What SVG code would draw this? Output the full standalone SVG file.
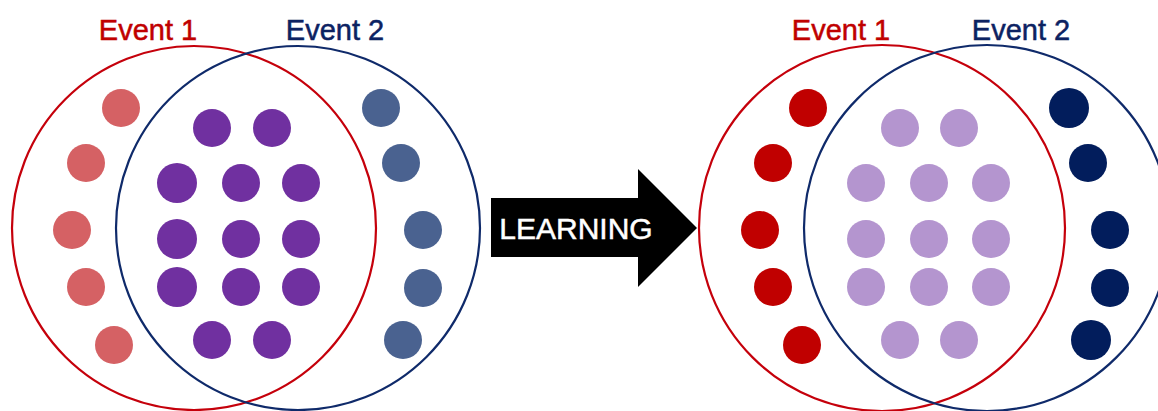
<svg xmlns="http://www.w3.org/2000/svg" width="1158" height="411" viewBox="0 0 1158 411">
  <style>
    .label { font-family: "Liberation Sans", Arial, sans-serif; font-size: 29px; text-anchor: middle; stroke-width: 0.5; }
    .red-text { fill: #c00000; stroke: #c00000; }
    .blue-text { fill: #0c2262; stroke: #0c2262; }
    .white-text { fill: #ffffff; stroke: #ffffff; font-size: 30px; }
    .ring { fill: none; stroke-width: 2.2; }
    .ring-red { stroke: #c5000b; }
    .ring-blue { stroke: #0f2a6a; }
    .dot { stroke: none; }
  </style>
  <rect width="1158" height="411" fill="#ffffff"/>

  <!-- Before learning -->
  <g id="venn-before">
    <g id="before-labels">
      <text class="label red-text" x="148" y="40">Event 1</text>
      <text class="label blue-text" x="335" y="40">Event 2</text>
    </g>
    <g id="before-event1-only" fill="#d56164">
      <circle class="dot" cx="121" cy="108" r="19"/>
      <circle class="dot" cx="86" cy="163" r="19"/>
      <circle class="dot" cx="72" cy="230" r="19"/>
      <circle class="dot" cx="86" cy="287" r="19"/>
      <circle class="dot" cx="114" cy="345" r="19"/>
    </g>
    <g id="before-shared" fill="#7030a0">
      <circle class="dot" cx="212" cy="128" r="19"/>
      <circle class="dot" cx="272" cy="128" r="19"/>
      <circle class="dot" cx="177" cy="183" r="20"/>
      <circle class="dot" cx="241" cy="183" r="19"/>
      <circle class="dot" cx="301" cy="183" r="19"/>
      <circle class="dot" cx="177" cy="239" r="20"/>
      <circle class="dot" cx="241" cy="239" r="19"/>
      <circle class="dot" cx="301" cy="239" r="19"/>
      <circle class="dot" cx="177" cy="287" r="20"/>
      <circle class="dot" cx="241" cy="287" r="19"/>
      <circle class="dot" cx="301" cy="287" r="19"/>
      <circle class="dot" cx="212" cy="340" r="19"/>
      <circle class="dot" cx="272" cy="340" r="19"/>
    </g>
    <g id="before-event2-only" fill="#4a6290">
      <circle class="dot" cx="381" cy="108" r="19"/>
      <circle class="dot" cx="401" cy="163" r="19"/>
      <circle class="dot" cx="423" cy="230" r="19"/>
      <circle class="dot" cx="423" cy="288" r="19"/>
      <circle class="dot" cx="403" cy="340" r="19"/>
    </g>
    <circle id="before-event1" class="ring ring-red" cx="194" cy="228" r="182"/>
    <circle id="before-event2" class="ring ring-blue" cx="298" cy="228" r="182"/>
  </g>

  <!-- Transition arrow -->
  <g id="learning-arrow">
    <polygon points="491,198 638,198 638,169 697,228 638,287 638,257 491,257" fill="#000000"/>
    <text class="label white-text" x="576" y="239">LEARNING</text>
  </g>

  <!-- After learning -->
  <g id="venn-after">
    <g id="after-labels">
      <text class="label red-text" x="841" y="40">Event 1</text>
      <text class="label blue-text" x="1021" y="40">Event 2</text>
    </g>
    <g id="after-event1-only" fill="#c00000">
      <circle class="dot" cx="808" cy="108" r="19"/>
      <circle class="dot" cx="773" cy="163" r="19"/>
      <circle class="dot" cx="760" cy="230" r="19"/>
      <circle class="dot" cx="773" cy="287" r="19"/>
      <circle class="dot" cx="802" cy="345" r="19"/>
    </g>
    <g id="after-shared" fill="#b495cf">
      <circle class="dot" cx="900" cy="128" r="19"/>
      <circle class="dot" cx="959" cy="128" r="19"/>
      <circle class="dot" cx="866" cy="183" r="19"/>
      <circle class="dot" cx="929" cy="183" r="19"/>
      <circle class="dot" cx="991" cy="183" r="19"/>
      <circle class="dot" cx="866" cy="239" r="19"/>
      <circle class="dot" cx="929" cy="239" r="19"/>
      <circle class="dot" cx="991" cy="239" r="19"/>
      <circle class="dot" cx="866" cy="287" r="19"/>
      <circle class="dot" cx="929" cy="287" r="19"/>
      <circle class="dot" cx="991" cy="287" r="19"/>
      <circle class="dot" cx="900" cy="340" r="19"/>
      <circle class="dot" cx="959" cy="340" r="19"/>
    </g>
    <g id="after-event2-only" fill="#021d5c">
      <circle class="dot" cx="1069" cy="108" r="20"/>
      <circle class="dot" cx="1088" cy="163" r="19"/>
      <circle class="dot" cx="1110" cy="230" r="19"/>
      <circle class="dot" cx="1110" cy="288" r="19"/>
      <circle class="dot" cx="1091" cy="340" r="20"/>
    </g>
    <circle id="after-event1" class="ring ring-red" cx="882" cy="228" r="183"/>
    <circle id="after-event2" class="ring ring-blue" cx="987" cy="228" r="183"/>
  </g>
</svg>
